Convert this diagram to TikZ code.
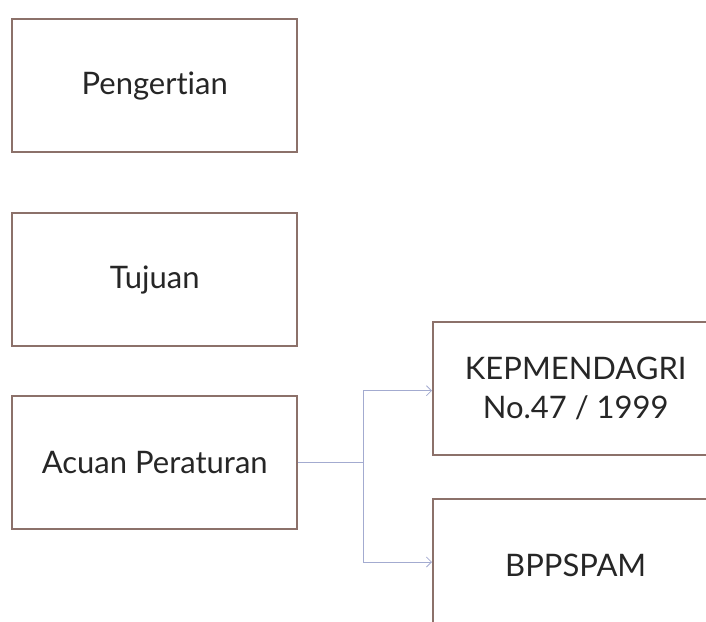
\documentclass[tikz,border=0pt]{standalone}
\usepackage{fontspec}
\setmainfont{Lato}[Ligatures=NoCommon]
\usetikzlibrary{arrows.meta}
\definecolor{boxline}{HTML}{8C716A}
\definecolor{linkline}{HTML}{A3ABD0}
\begin{document}
\begin{tikzpicture}[x=1pt,y=-1pt,
  itembox/.style={draw=boxline,line width=2.4pt,fill=white,minimum width=285pt,
    minimum height=133pt,anchor=north west,inner sep=0pt,align=center,
    font=\fontsize{31}{39}\selectfont,text=black!85},
  link/.style={draw=linkline,line width=0.9pt},
  tip/.style={-{Straight Barb[length=5pt,width=10pt,line width=0.8pt]}}]
  \useasboundingbox (0,0) rectangle (706,621);
  \clip (0,0) rectangle (706,621);
  \node[itembox] (def) at (11,18) {Pengertian};
  \node[itembox] (goal) at (11,212) {Tujuan};
  \node[itembox] (ref) at (11,395) {Acuan Peraturan};
  \node[itembox] (kep) at (432,321) {KEPMENDAGRI\\No.47 / 1999};
  \node[itembox] (bpp) at (432,498) {BPPSPAM};
  \coordinate (fork) at (363,0);
  \draw[link] (ref.east) -- (ref.east -| fork);
  \draw[link,tip] (ref.east -| fork) |- ([yshift=-2pt]kep.west);
  \draw[link,tip] (ref.east -| fork) |- (bpp.west |- 0,562);
\end{tikzpicture}
\end{document}
